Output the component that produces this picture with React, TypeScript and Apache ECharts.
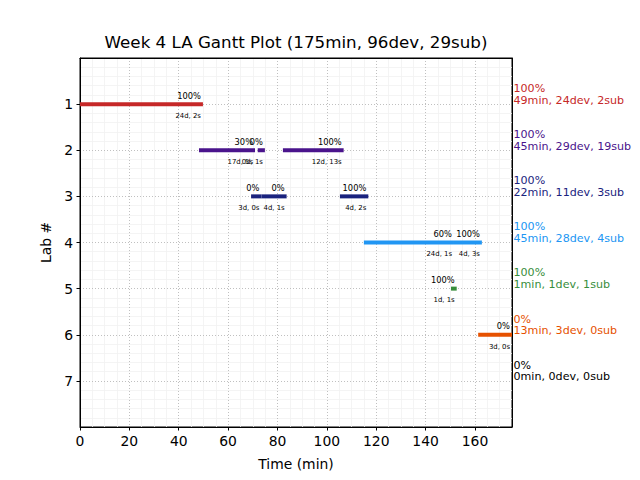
import React, { useEffect, useRef } from "react";
import * as echarts from "echarts";

const FONT = "DejaVu Sans";

const chartTitle = "Week 4 LA Gantt Plot (175min, 96dev, 29sub)";
const xTicks = [0, 20, 40, 60, 80, 100, 120, 140, 160];
const yTicks = [1, 2, 3, 4, 5, 6, 7];

// per-lab summary
const labs = [1, 2, 3, 4, 5, 6, 7];
const labColors = ["#c62828", "#4a148c", "#1a237e", "#2196f3", "#388e3c", "#e65100", "#000000"];
const labPct = ["100%", "100%", "100%", "100%", "100%", "0%", "0%"];
const labMinutes = [49, 45, 22, 45, 1, 13, 0];
const labDevs = [24, 29, 11, 28, 1, 3, 0];
const labSubs = [2, 19, 3, 4, 1, 0, 0];

// segments
const segLab = [1, 2, 2, 2, 3, 3, 3, 4, 4, 5, 6];
const segStart = [0, 48.2, 72.0, 82.2, 69.3, 73.5, 105.3, 115.0, 151.5, 150.3, 161.3];
const segEnd = [49.8, 70.9, 74.9, 106.8, 73.5, 83.7, 116.8, 151.5, 162.8, 152.6, 175];
const segPct = ["100%", "30%", "0%", "100%", "0%", "0%", "100%", "60%", "100%", "100%", "0%"];
const segDev = [24, 17, 0, 12, 3, 4, 4, 24, 4, 1, 3];
const segSub = [2, 5, 1, 13, 0, 1, 2, 1, 3, 1, 0];

const minorX: number[] = [];
for (let v = 5; v < 175; v += 5) if (v % 20 !== 0) minorX.push(v);
const minorY: number[] = [];
for (let i = 1; i < 40; i++) if (i % 5 !== 0) minorY.push(i / 5);

export default function App() {
  const ref = useRef<HTMLDivElement>(null);
  useEffect(() => {
    if (!ref.current) return;
    const chart = echarts.init(ref.current, null, { renderer: "svg" });
    const segData = segLab.map((l, i) => [l, segStart[i], segEnd[i]]);
    const labData = labs.map((l) => [l, 175]);
    const hidden = { show: false };
    const frameAxis = (pos: string, max: number, inverse: boolean) => ({
      type: "value",
      position: pos,
      min: 0,
      max,
      inverse,
      z: 4,
      axisLine: { show: true, onZero: false, lineStyle: { color: "#000", width: 1 } },
      axisTick: hidden,
      axisLabel: hidden,
      splitLine: hidden,
    });
    chart.setOption({
      animation: false,
      backgroundColor: "#ffffff",
      textStyle: { fontFamily: FONT },
      grid: {
        left: 80,
        right: 128,
        top: 58,
        bottom: 53,
        show: true,
        borderColor: "#000",
        borderWidth: 1,
        backgroundColor: "transparent",
      },
      graphic: [
        {
          type: "text",
          x: 296,
          y: 50,
          style: {
            text: chartTitle,
            fontFamily: FONT,
            fontSize: 16.7,
            fill: "#000",
            align: "center",
            verticalAlign: "bottom",
          },
        },
      ],
      xAxis: [
        {
          type: "value",
          position: "bottom",
          min: 0,
          max: 175,
          interval: 5,
          z: 0,
          axisLine: hidden,
          axisLabel: hidden,
          axisTick: { show: false, customValues: minorX },
          splitLine: { show: true, lineStyle: { color: "#f1f1f1", width: 0.8, type: "solid" } },
        },
        {
          type: "value",
          position: "bottom",
          min: 0,
          max: 175,
          interval: 20,
          z: 1,
          name: "Time (min)",
          nameLocation: "middle",
          nameGap: 30,
          nameTextStyle: { fontFamily: FONT, fontSize: 13.9, color: "#000" },
          axisLine: { show: true, onZero: false, lineStyle: { color: "#000", width: 1 } },
          axisTick: { show: true, length: 3.5, customValues: xTicks, lineStyle: { color: "#000" } },
          axisLabel: { show: true, customValues: xTicks, margin: 7, fontFamily: FONT, fontSize: 13.9, color: "#000" },
          splitLine: { show: true, lineStyle: { color: "#b0b0b0", width: 0.8, type: [1, 2] } },
        },
        frameAxis("top", 175, false),
      ],
      yAxis: [
        {
          type: "value",
          position: "left",
          min: 0,
          max: 8,
          interval: 0.2,
          inverse: true,
          z: 0,
          axisLine: hidden,
          axisLabel: hidden,
          axisTick: { show: false, customValues: minorY },
          splitLine: { show: true, lineStyle: { color: "#f1f1f1", width: 0.8, type: "solid" } },
        },
        {
          type: "value",
          position: "left",
          min: 0,
          max: 8,
          interval: 1,
          inverse: true,
          z: 1.5,
          name: "Lab #",
          nameLocation: "middle",
          nameGap: 26,
          nameTextStyle: { fontFamily: FONT, fontSize: 13.9, color: "#000" },
          axisLine: { show: true, onZero: false, lineStyle: { color: "#000", width: 1 } },
          axisTick: { show: true, length: 3.5, customValues: yTicks, lineStyle: { color: "#000" } },
          axisLabel: { show: true, customValues: yTicks, margin: 7, fontFamily: FONT, fontSize: 13.9, color: "#000" },
          splitLine: { show: true, lineStyle: { color: "#b0b0b0", width: 0.8, type: [1, 2] } },
        },
        frameAxis("right", 8, true),
      ],
      series: [
        {
          type: "custom",
          xAxisIndex: 1,
          yAxisIndex: 1,
          z: 5,
          clip: false,
          encode: { x: [1, 2], y: 0 },
          data: segData,
          renderItem: (params: any, api: any) => {
            const lab = api.value(0);
            const p0 = api.coord([api.value(1), lab]);
            const p1 = api.coord([api.value(2), lab]);
            const idx = params.dataIndex;
            const color = labColors[lab - 1];
            return {
              type: "group",
              children: [
                {
                  type: "rect",
                  shape: { x: p0[0], y: p0[1] - 2, width: p1[0] - p0[0], height: 4 },
                  style: { fill: color },
                },
                {
                  type: "text",
                  x: p1[0] - 2,
                  y: p1[1] - 8.3,
                  style: {
                    text: segPct[idx],
                    fontFamily: FONT,
                    fontSize: 8.3,
                    fill: "#000",
                    align: "right",
                    verticalAlign: "middle",
                  },
                },
                {
                  type: "text",
                  x: p1[0] - 2,
                  y: p1[1] + 11.8,
                  style: {
                    text: segDev[idx] + "d, " + segSub[idx] + "s",
                    fontFamily: FONT,
                    fontSize: 6.9,
                    fill: "#000",
                    align: "right",
                    verticalAlign: "middle",
                  },
                },
              ],
            };
          },
        },
        {
          type: "custom",
          xAxisIndex: 1,
          yAxisIndex: 1,
          z: 5,
          clip: false,
          encode: { x: 1, y: 0 },
          data: labData,
          renderItem: (params: any, api: any) => {
            const lab = api.value(0);
            const p = api.coord([api.value(1), lab]);
            const i = params.dataIndex;
            const color = labColors[i];
            return {
              type: "group",
              children: [
                {
                  type: "text",
                  x: p[0] + 1.5,
                  y: p[1] - 15.7,
                  style: {
                    text: labPct[i],
                    fontFamily: FONT,
                    fontSize: 11.1,
                    fill: color,
                    align: "left",
                    verticalAlign: "middle",
                  },
                },
                {
                  type: "text",
                  x: p[0] + 1.5,
                  y: p[1] - 4,
                  style: {
                    text: labMinutes[i] + "min, " + labDevs[i] + "dev, " + labSubs[i] + "sub",
                    fontFamily: FONT,
                    fontSize: 11.1,
                    fill: color,
                    align: "left",
                    verticalAlign: "middle",
                  },
                },
              ],
            };
          },
        },
      ],
    });
    return () => chart.dispose();
  }, []);
  return <div ref={ref} style={{ width: 640, height: 480, position: "absolute", left: 0, top: 0 }} />;
}
